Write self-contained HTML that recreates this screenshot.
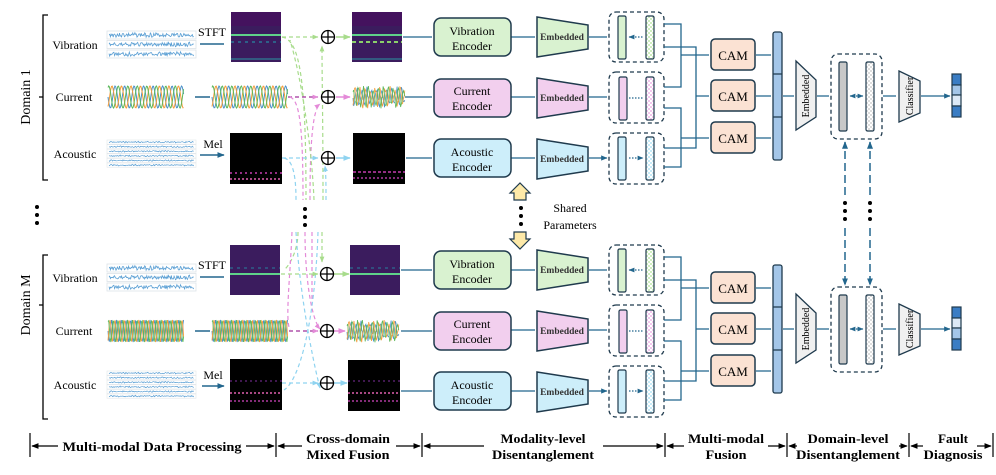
<!DOCTYPE html>
<html><head><meta charset="utf-8"><style>
html,body{margin:0;padding:0;background:#fff;}
svg{display:block;font-family:"Liberation Serif",serif;}
.lb{font-family:"Liberation Serif",serif;font-weight:bold;font-size:13px;}
</style></head><body>
<svg id="s" width="996" height="475" viewBox="0 0 996 475" xmlns="http://www.w3.org/2000/svg">
<defs>
<marker id="a" viewBox="0 0 10 10" refX="9" refY="5" markerWidth="5" markerHeight="5" orient="auto-start-reverse"><path d="M0 1L10 5L0 9z" fill="#22668d"/></marker>
<marker id="ag" viewBox="0 0 10 10" refX="9" refY="5" markerWidth="5" markerHeight="5" orient="auto"><path d="M0 1L10 5L0 9z" fill="#a8dc8c"/></marker>
<marker id="ap" viewBox="0 0 10 10" refX="9" refY="5" markerWidth="5" markerHeight="5" orient="auto"><path d="M0 1L10 5L0 9z" fill="#e48ad8"/></marker>
<marker id="ab" viewBox="0 0 10 10" refX="9" refY="5" markerWidth="5" markerHeight="5" orient="auto"><path d="M0 1L10 5L0 9z" fill="#8fd3f0"/></marker>
<marker id="ak" viewBox="0 0 10 10" refX="9" refY="5" markerWidth="6" markerHeight="6" orient="auto"><path d="M0 1L10 5L0 9z" fill="#000"/></marker>
<pattern id="chk" width="4" height="4" patternUnits="userSpaceOnUse"><rect width="4" height="4" fill="#fff"/><rect width="2" height="2" fill="#ddd"/><rect x="2" y="2" width="2" height="2" fill="#ddd"/></pattern>
<pattern id="chkg" width="4" height="4" patternUnits="userSpaceOnUse"><rect width="4" height="4" fill="#fff"/><rect width="2" height="2" fill="#cfeec0"/><rect x="2" y="2" width="2" height="2" fill="#cfeec0"/></pattern>
<pattern id="chkp" width="4" height="4" patternUnits="userSpaceOnUse"><rect width="4" height="4" fill="#fff"/><rect width="2" height="2" fill="#f3c8ee"/><rect x="2" y="2" width="2" height="2" fill="#f3c8ee"/></pattern>
<pattern id="chkb" width="4" height="4" patternUnits="userSpaceOnUse"><rect width="4" height="4" fill="#fff"/><rect width="2" height="2" fill="#c6ebf8"/><rect x="2" y="2" width="2" height="2" fill="#c6ebf8"/></pattern>
</defs>

<!-- ===== Domain 1 ===== -->
<g id="d1">
<path d="M48 15H43V180H48M43 97H39" fill="none" stroke="#000" stroke-width="1.3"/>
<text x="25" y="97" font-size="14" text-anchor="middle" transform="rotate(-90 25 97)" dy="5">Domain 1</text>
<text x="75" y="49" font-size="12" text-anchor="middle">Vibration</text>
<text x="74" y="101" font-size="12" text-anchor="middle">Current</text>
<text x="75" y="158" font-size="12" text-anchor="middle">Acoustic</text>
<text x="212" y="36" font-size="12" text-anchor="middle">STFT</text>
<text x="213" y="148" font-size="12" text-anchor="middle">Mel</text>
<path d="M200 44H224M195 97H210M200 155H224" stroke="#22668d" stroke-width="1.5" marker-end="url(#a)"/>
<g class="vib" transform="translate(107,31)"></g>
<g class="cur" transform="translate(108,97)"></g>
<g class="cur" transform="translate(212,97)"></g>
<g class="aco" transform="translate(107,140)"></g>
<rect x="231" y="12" width="50" height="50" fill="#3b1c5e"/><rect x="231" y="12" width="50" height="14" fill="#44125e"/><line x1="231" y1="35" x2="281" y2="35" stroke="#5fd38a" stroke-width="2"/><line x1="231" y1="42" x2="281" y2="42" stroke="#2e5f88" stroke-width="2" stroke-dasharray="3 4"/><line x1="231" y1="59" x2="281" y2="59" stroke="#2f6f8c" stroke-width="1.5"/>
<rect x="352" y="12" width="50" height="50" fill="#3b1c5e"/><rect x="352" y="12" width="50" height="14" fill="#44125e"/><line x1="352" y1="35" x2="402" y2="35" stroke="#5fd38a" stroke-width="2"/><line x1="352" y1="42" x2="402" y2="42" stroke="#8bd06a" stroke-width="2" stroke-dasharray="4 3"/><line x1="352" y1="59" x2="402" y2="59" stroke="#2f6f8c" stroke-width="1.5"/>
<rect x="230" y="133" width="52" height="51" fill="#000"/><line x1="230" y1="173" x2="282" y2="173" stroke="#c23cae" stroke-width="1.5" stroke-dasharray="2 3"/><line x1="230" y1="179" x2="282" y2="179" stroke="#e060b0" stroke-width="1.5" stroke-dasharray="2 2"/>
<rect x="353" y="133" width="52" height="51" fill="#000"/><line x1="353" y1="172" x2="405" y2="172" stroke="#c23cae" stroke-width="1.5" stroke-dasharray="3 2"/><line x1="353" y1="178" x2="405" y2="178" stroke="#b03aa0" stroke-width="1.5" stroke-dasharray="2 2"/>
<g class="mix" transform="translate(353,97)"></g>
<g fill="none" stroke-width="1.2" stroke-dasharray="4 3">
<path d="M282 37H318" stroke="#a8dc8c" marker-end="url(#ag)"/>
<path d="M282 37C300 40 306 80 306 200" stroke="#a8dc8c"/>
<path d="M323 200C323 120 322 80 322 46" stroke="#a8dc8c" marker-end="url(#ag)"/>
<path d="M288 97H318" stroke="#a0309a" marker-end="url(#ap)"/>
<path d="M290 97C300 100 303 130 303 200" stroke="#e48ad8"/>
<path d="M310 200C310 150 312 110 320 104" stroke="#e48ad8" marker-end="url(#ap)"/>
<path d="M282 158H318" stroke="#8fd3f0" marker-end="url(#ab)"/>
<path d="M284 158C294 160 296 180 296 200" stroke="#8fd3f0"/>
<path d="M326 200C326 185 326 175 325 166" stroke="#8fd3f0" marker-end="url(#ab)"/>
<path d="M314 200C312 150 302 80 290 40" stroke="#a8dc8c"/>
</g>
<g fill="none" stroke-width="1.5">
<path d="M336 37H350" stroke="#a8dc8c" marker-end="url(#ag)"/>
<path d="M336 97H350" stroke="#e48ad8" marker-end="url(#ap)"/>
<path d="M336 158H350" stroke="#8fd3f0" marker-end="url(#ab)"/>
</g>
<g fill="#fff" stroke="#000" stroke-width="1.3">
<circle cx="328" cy="37" r="6.5"/><path d="M321.5 37H334.5M328 30.5V43.5"/>
<circle cx="328" cy="97" r="6.5"/><path d="M321.5 97H334.5M328 90.5V103.5"/>
<circle cx="328" cy="158" r="6.5"/><path d="M321.5 158H334.5M328 151.5V164.5"/>
</g>
<path d="M403 37H432M405 97H432M406 158H432M511 37H535M511 97H535M511 158H535M589 37H607M589 97H607M589 158H607" stroke="#22668d" stroke-width="1.3" marker-end="url(#a)"/>
<g stroke="#1f3a4d" stroke-width="1.5">
<rect x="434" y="18" width="77" height="38" rx="7" fill="#d9f2d0"/>
<rect x="434" y="79" width="77" height="38" rx="7" fill="#f2cfee"/>
<rect x="434" y="139" width="77" height="38" rx="7" fill="#cdeefa"/>
<path d="M537 17L588 25V49L537 57z" fill="#d9f2d0"/>
<path d="M537 78L588 86V110L537 118z" fill="#f2cfee"/>
<path d="M537 139L588 147V171L537 179z" fill="#cdeefa"/>
</g>
<g font-size="12" text-anchor="middle">
<text x="472" y="35">Vibration</text><text x="472" y="50">Encoder</text>
<text x="472" y="95">Current</text><text x="472" y="110">Encoder</text>
<text x="472" y="156">Acoustic</text><text x="472" y="171">Encoder</text>
</g>
<g font-size="9.5" text-anchor="middle" font-weight="bold" fill="#333">
<text x="562" y="40">Embedded</text><text x="562" y="101">Embedded</text><text x="562" y="162">Embedded</text>
</g>
<g fill="none" stroke="#1f3a4d" stroke-width="1.3" stroke-dasharray="4 3">
<rect x="609" y="12" width="55" height="50" rx="7"/>
<rect x="609" y="72" width="55" height="51" rx="7"/>
<rect x="609" y="133" width="55" height="51" rx="7"/>
</g>
<g stroke="#1f3a4d" stroke-width="1.2">
<rect x="618" y="16" width="8" height="43" rx="1.5" fill="#d9f2d0"/><rect x="646" y="16" width="8" height="43" rx="1.5" fill="url(#chkg)"/>
<rect x="619" y="77" width="8" height="43" rx="1.5" fill="#f2cfee"/><rect x="646" y="77" width="8" height="43" rx="1.5" fill="url(#chkp)"/>
<rect x="618" y="137" width="8" height="43" rx="1.5" fill="#cdeefa"/><rect x="646" y="137" width="8" height="43" rx="1.5" fill="url(#chkb)"/>
</g>
<path d="M629 37H643M629 98H643M629 158H643" stroke="#22668d" stroke-width="1.2" stroke-dasharray="1.5 1.5" marker-start="url(#a)" marker-end="url(#a)"/>
<g fill="none" stroke="#22668d" stroke-width="1.3">
<path d="M664 24H681V87H664M664 47H696V148H664M664 108H681V167H664"/>
</g>
<path d="M681 55H709M696 96H709M681 138H709M756 55H771M756 96H771M756 138H771M783 96H794M817 96H829M883 96H896M921 96H950" stroke="#22668d" stroke-width="1.3" marker-end="url(#a)"/>
<g stroke="#1f3a4d" stroke-width="1.5" fill="#fbe2d3">
<rect x="711" y="39" width="44" height="31" rx="4"/><rect x="711" y="80" width="44" height="31" rx="4"/><rect x="711" y="122" width="44" height="31" rx="4"/>
</g>
<g font-size="13" text-anchor="middle"><text x="733" y="60">CAM</text><text x="733" y="101">CAM</text><text x="733" y="143">CAM</text></g>
<g stroke="#1f3a4d" stroke-width="1.3" fill="#a4c6e8">
<rect x="773" y="32" width="9" height="128" rx="2"/><path d="M773 74H782M773 117H782"/>
<path d="M796 61L816 80V117L796 130z" fill="#f0f0f0"/>
<path d="M899 71L920 81V113L899 122z" fill="#f0f0f0"/>
</g>
<text x="806" y="96" font-size="10" text-anchor="middle" transform="rotate(-90 806 96)" dy="3">Embedded</text>
<text x="910" y="96" font-size="10" text-anchor="middle" transform="rotate(-90 910 96)" dy="3">Classifier</text>
<rect x="831" y="54" width="51" height="85" rx="7" fill="none" stroke="#1f3a4d" stroke-width="1.3" stroke-dasharray="4 3"/>
<rect x="839" y="62" width="8" height="69" rx="1.5" fill="#c8c8c8" stroke="#1f3a4d" stroke-width="1.2"/>
<rect x="866" y="62" width="8" height="69" rx="1.5" fill="url(#chk)" stroke="#1f3a4d" stroke-width="1.2"/>
<path d="M850 96H863" stroke="#22668d" stroke-width="1.2" stroke-dasharray="1.5 1.5" marker-start="url(#a)" marker-end="url(#a)"/>
<g stroke="#1f3a4d" stroke-width="1.2"><rect x="952" y="74" width="9" height="11" fill="#3a7dc4"/><rect x="952" y="85" width="9" height="10" fill="#a4c6e8"/><rect x="952" y="95" width="9" height="11" fill="#dce9f6"/><rect x="952" y="106" width="9" height="11" fill="#3a7dc4"/></g>
</g>

<g fill="#000"><circle cx="37" cy="207" r="2"/><circle cx="37" cy="215" r="2"/><circle cx="37" cy="223" r="2"/>
<circle cx="305" cy="209" r="2"/><circle cx="305" cy="217" r="2"/><circle cx="305" cy="225" r="2"/>
<circle cx="521" cy="208" r="2"/><circle cx="521" cy="216" r="2"/><circle cx="521" cy="224" r="2"/>
<circle cx="845" cy="203" r="2"/><circle cx="845" cy="211" r="2"/><circle cx="845" cy="219" r="2"/>
<circle cx="870" cy="203" r="2"/><circle cx="870" cy="211" r="2"/><circle cx="870" cy="219" r="2"/></g>
<path d="M514 200V193H510L520 183L530 193H526V200zM514 232V239H510L520 249L530 239H526V232z" fill="#fde9a8" stroke="#1f3a4d" stroke-width="1.2"/>
<text x="570" y="212" font-size="12" text-anchor="middle">Shared</text>
<text x="570" y="229" font-size="12" text-anchor="middle">Parameters</text>
<g stroke="#22668d" stroke-width="1.5" stroke-dasharray="8 4" fill="none">
<path d="M845 195V142" marker-end="url(#a)"/><path d="M870 195V142" marker-end="url(#a)"/>
<path d="M845 228V285" marker-end="url(#a)"/><path d="M870 228V285" marker-end="url(#a)"/>
</g>
<g fill="none" stroke-width="1.2" stroke-dasharray="4 3">
<path d="M298 232C298 250 290 265 284 270" stroke="#a8dc8c"/>
<path d="M322 232V262" stroke="#a8dc8c" marker-end="url(#ag)"/>
<path d="M305 232C305 280 312 320 320 329" stroke="#e48ad8" marker-end="url(#ap)"/>
<path d="M312 232V300" stroke="#e48ad8"/>
<path d="M296 232C300 300 315 370 320 388" stroke="#8fd3f0" marker-end="url(#ab)"/>
<path d="M318 232C315 320 300 380 284 390" stroke="#8fd3f0"/>
<path d="M292 232C290 280 285 320 290 330" stroke="#e48ad8"/>
</g>

<!-- ===== Domain M ===== -->
<g transform="translate(0,233)">
<path d="M48 22H43V186H48M43 72H39" fill="none" stroke="#000" stroke-width="1.3"/>
<text x="25" y="72" font-size="14" text-anchor="middle" transform="rotate(-90 25 72)" dy="5">Domain M</text>
<text x="75" y="49" font-size="12" text-anchor="middle">Vibration</text>
<text x="74" y="102" font-size="12" text-anchor="middle">Current</text>
<text x="75" y="156" font-size="12" text-anchor="middle">Acoustic</text>
<text x="212" y="36" font-size="12" text-anchor="middle">STFT</text>
<text x="213" y="146" font-size="12" text-anchor="middle">Mel</text>
<path d="M200 44H224M195 98H210M202 153H224" stroke="#22668d" stroke-width="1.5" marker-end="url(#a)"/>
<g class="vib" transform="translate(107,31)"></g>
<g class="cur2" transform="translate(108,98)"></g>
<g class="cur2" transform="translate(212,98)"></g>
<g class="aco" transform="translate(107,138)"></g>
<rect x="230" y="12" width="50" height="50" fill="#3b1c5e"/><line x1="230" y1="41" x2="280" y2="41" stroke="#5fd38a" stroke-width="2"/><line x1="230" y1="35" x2="280" y2="35" stroke="#2e5f88" stroke-width="1.5" stroke-dasharray="3 4"/>
<rect x="350" y="12" width="50" height="50" fill="#3b1c5e"/><line x1="350" y1="41" x2="400" y2="41" stroke="#5fd38a" stroke-width="2"/><line x1="350" y1="35" x2="400" y2="35" stroke="#2e5f88" stroke-width="1.5" stroke-dasharray="3 4"/>
<rect x="230" y="126" width="52" height="51" fill="#000"/><line x1="230" y1="148" x2="282" y2="148" stroke="#8030a0" stroke-width="1" stroke-dasharray="2 3"/><line x1="230" y1="160" x2="282" y2="160" stroke="#e060b0" stroke-width="1.5" stroke-dasharray="2 2"/><line x1="230" y1="168" x2="282" y2="168" stroke="#b03aa0" stroke-width="1.5" stroke-dasharray="2 2"/>
<rect x="348" y="127" width="52" height="51" fill="#000"/><line x1="348" y1="148" x2="400" y2="148" stroke="#8030a0" stroke-width="1" stroke-dasharray="2 3"/><line x1="348" y1="160" x2="400" y2="160" stroke="#e060b0" stroke-width="1.5" stroke-dasharray="2 2"/><line x1="348" y1="168" x2="400" y2="168" stroke="#b03aa0" stroke-width="1.5" stroke-dasharray="2 2"/>
<g class="mix" transform="translate(347,98)"></g>
<g fill="none" stroke-width="1.2" stroke-dasharray="4 3">
<path d="M281 41H318" stroke="#a8dc8c" marker-end="url(#ag)"/>
<path d="M289 98H318" stroke="#a0309a" marker-end="url(#ap)"/>
<path d="M282 150H318" stroke="#8fd3f0" marker-end="url(#ab)"/>
</g>
<g fill="none" stroke-width="1.5">
<path d="M334 41H349" stroke="#a8dc8c" marker-end="url(#ag)"/>
<path d="M334 98H345" stroke="#e48ad8" marker-end="url(#ap)"/>
<path d="M334 150H347" stroke="#8fd3f0" marker-end="url(#ab)"/>
</g>
<g fill="#fff" stroke="#000" stroke-width="1.3">
<circle cx="327" cy="41" r="6.5"/><path d="M320.5 41H333.5M327 34.5V47.5"/>
<circle cx="327" cy="98" r="6.5"/><path d="M320.5 98H333.5M327 91.5V104.5"/>
<circle cx="327" cy="150" r="6.5"/><path d="M320.5 150H333.5M327 143.5V156.5"/>
</g>
<path d="M401 37H432M401 98H432M401 158H432M511 37H535M511 97H535M511 158H535M589 37H607M589 97H607M589 158H607" stroke="#22668d" stroke-width="1.3" marker-end="url(#a)"/>
<g stroke="#1f3a4d" stroke-width="1.5">
<rect x="434" y="18" width="77" height="38" rx="7" fill="#d9f2d0"/>
<rect x="434" y="79" width="77" height="38" rx="7" fill="#f2cfee"/>
<rect x="434" y="139" width="77" height="38" rx="7" fill="#cdeefa"/>
<path d="M537 17L588 25V49L537 57z" fill="#d9f2d0"/>
<path d="M537 78L588 86V110L537 118z" fill="#f2cfee"/>
<path d="M537 139L588 147V171L537 179z" fill="#cdeefa"/>
</g>
<g font-size="12" text-anchor="middle">
<text x="472" y="35">Vibration</text><text x="472" y="50">Encoder</text>
<text x="472" y="95">Current</text><text x="472" y="110">Encoder</text>
<text x="472" y="156">Acoustic</text><text x="472" y="171">Encoder</text>
</g>
<g font-size="9.5" text-anchor="middle" font-weight="bold" fill="#333">
<text x="562" y="40">Embedded</text><text x="562" y="101">Embedded</text><text x="562" y="162">Embedded</text>
</g>
<g fill="none" stroke="#1f3a4d" stroke-width="1.3" stroke-dasharray="4 3">
<rect x="609" y="12" width="55" height="50" rx="7"/>
<rect x="609" y="72" width="55" height="51" rx="7"/>
<rect x="609" y="133" width="55" height="51" rx="7"/>
</g>
<g stroke="#1f3a4d" stroke-width="1.2">
<rect x="618" y="16" width="8" height="43" rx="1.5" fill="#d9f2d0"/><rect x="646" y="16" width="8" height="43" rx="1.5" fill="url(#chkg)"/>
<rect x="619" y="77" width="8" height="43" rx="1.5" fill="#f2cfee"/><rect x="646" y="77" width="8" height="43" rx="1.5" fill="url(#chkp)"/>
<rect x="618" y="137" width="8" height="43" rx="1.5" fill="#cdeefa"/><rect x="646" y="137" width="8" height="43" rx="1.5" fill="url(#chkb)"/>
</g>
<path d="M629 37H643M629 98H643M629 158H643" stroke="#22668d" stroke-width="1.2" stroke-dasharray="1.5 1.5" marker-start="url(#a)" marker-end="url(#a)"/>
<g fill="none" stroke="#22668d" stroke-width="1.3">
<path d="M664 24H681V87H664M664 47H696V148H664M664 108H681V167H664"/>
</g>
<path d="M681 55H709M696 96H709M681 138H709M756 55H771M756 96H771M756 138H771M783 96H794M817 96H829M883 96H896M921 96H950" stroke="#22668d" stroke-width="1.3" marker-end="url(#a)"/>
<g stroke="#1f3a4d" stroke-width="1.5" fill="#fbe2d3">
<rect x="711" y="39" width="44" height="31" rx="4"/><rect x="711" y="80" width="44" height="31" rx="4"/><rect x="711" y="122" width="44" height="31" rx="4"/>
</g>
<g font-size="13" text-anchor="middle"><text x="733" y="60">CAM</text><text x="733" y="101">CAM</text><text x="733" y="143">CAM</text></g>
<g stroke="#1f3a4d" stroke-width="1.3" fill="#a4c6e8">
<rect x="773" y="32" width="9" height="128" rx="2"/><path d="M773 74H782M773 117H782"/>
<path d="M796 61L816 80V117L796 130z" fill="#f0f0f0"/>
<path d="M899 71L920 81V113L899 122z" fill="#f0f0f0"/>
</g>
<text x="806" y="96" font-size="10" text-anchor="middle" transform="rotate(-90 806 96)" dy="3">Embedded</text>
<text x="910" y="96" font-size="10" text-anchor="middle" transform="rotate(-90 910 96)" dy="3">Classifier</text>
<rect x="831" y="54" width="51" height="85" rx="7" fill="none" stroke="#1f3a4d" stroke-width="1.3" stroke-dasharray="4 3"/>
<rect x="839" y="62" width="8" height="69" rx="1.5" fill="#c8c8c8" stroke="#1f3a4d" stroke-width="1.2"/>
<rect x="866" y="62" width="8" height="69" rx="1.5" fill="url(#chk)" stroke="#1f3a4d" stroke-width="1.2"/>
<path d="M850 96H863" stroke="#22668d" stroke-width="1.2" stroke-dasharray="1.5 1.5" marker-start="url(#a)" marker-end="url(#a)"/>
<g stroke="#1f3a4d" stroke-width="1.2"><rect x="952" y="74" width="9" height="11" fill="#3a7dc4"/><rect x="952" y="85" width="9" height="10" fill="#dce9f6"/><rect x="952" y="95" width="9" height="11" fill="#a4c6e8"/><rect x="952" y="106" width="9" height="11" fill="#3a7dc4"/></g>
</g>

<!-- bottom stage labels -->
<g stroke="#000" stroke-width="1.2">
<path d="M30 433V457M276 433V457M422 433V457M665 433V457M787 433V457M909 433V457M993 433V457"/>
<path d="M58 446H32" marker-end="url(#ak)"/><path d="M246 446H274" marker-end="url(#ak)"/>
<path d="M302 446H278" marker-end="url(#ak)"/><path d="M396 446H420" marker-end="url(#ak)"/>
<path d="M484 446H424" marker-end="url(#ak)"/><path d="M603 446H663" marker-end="url(#ak)"/>
<path d="M684 446H667" marker-end="url(#ak)"/><path d="M768 446H785" marker-end="url(#ak)"/>
<path d="M797 446H789" marker-end="url(#ak)"/><path d="M899 446H907" marker-end="url(#ak)"/>
<path d="M923 446H911" marker-end="url(#ak)"/><path d="M977 446H991" marker-end="url(#ak)"/>
</g>
<g class="lb" text-anchor="middle" lengthAdjust="spacingAndGlyphs">
<text x="152" y="451" textLength="179" lengthAdjust="spacingAndGlyphs">Multi-modal Data Processing</text>
<text x="348" y="443" textLength="84" lengthAdjust="spacingAndGlyphs">Cross-domain</text><text x="348" y="459" textLength="83" lengthAdjust="spacingAndGlyphs">Mixed Fusion</text>
<text x="543" y="443" textLength="85" lengthAdjust="spacingAndGlyphs">Modality-level</text><text x="543" y="459" textLength="102" lengthAdjust="spacingAndGlyphs">Disentanglement</text>
<text x="726" y="443" textLength="76" lengthAdjust="spacingAndGlyphs">Multi-modal</text><text x="726" y="459" textLength="41" lengthAdjust="spacingAndGlyphs">Fusion</text>
<text x="848" y="443" textLength="81" lengthAdjust="spacingAndGlyphs">Domain-level</text><text x="848" y="459" textLength="104" lengthAdjust="spacingAndGlyphs">Disentanglement</text>
<text x="953" y="443" textLength="30" lengthAdjust="spacingAndGlyphs">Fault</text><text x="953" y="459" textLength="59" lengthAdjust="spacingAndGlyphs">Diagnosis</text>
</g>
</svg>
<script>
(function(){
var NS="http://www.w3.org/2000/svg";
function mk(g,tag,at){var e=document.createElementNS(NS,tag);for(var k in at)e.setAttribute(k,at[k]);g.appendChild(e);return e;}
function wave(x0,x1,yc,amp,per,ph,noise,seed){var d="",s=seed||1;for(var x=x0;x<=x1;x+=0.7){s=(s*9301+49297)%233280;var r=s/233280-0.5;var y=yc+amp*Math.sin((x-x0)/per*2*Math.PI+ph)+noise*r;d+=(x==x0?"M":"L")+x.toFixed(1)+" "+y.toFixed(1);}return d;}
document.querySelectorAll(".vib").forEach(function(g){for(var i=0;i<3;i++){mk(g,"rect",{x:0,y:i*9.5,width:89,height:8,fill:"#fff",stroke:"#dde3e8","stroke-width":0.8});mk(g,"path",{d:wave(2,87,i*9.5+4,0.5,3,0,4,i+3),fill:"none",stroke:"#5a9fd4","stroke-width":0.8});}});
document.querySelectorAll(".aco").forEach(function(g){for(var i=0;i<6;i++){mk(g,"rect",{x:0,y:i*4.6,width:89,height:4.2,fill:"#fff",stroke:"#e2e6ea","stroke-width":0.6});mk(g,"path",{d:wave(2,87,i*4.6+2.1,0.3,3,0,1.2,i+7),fill:"none",stroke:"#5a9fd4","stroke-width":0.7});}});
var cols=["#4a90c8","#f39c3a","#5cb85c"];
document.querySelectorAll(".cur").forEach(function(g){for(var i=0;i<3;i++)mk(g,"path",{d:wave(0,76,0,11,9.5,i*2.094,0,1),fill:"none",stroke:cols[i],"stroke-width":1});});
document.querySelectorAll(".cur2").forEach(function(g){for(var i=0;i<3;i++)mk(g,"path",{d:wave(0,76,0,11,4.8,i*2.094,0,1),fill:"none",stroke:cols[i],"stroke-width":0.9});});
document.querySelectorAll(".mix").forEach(function(g){for(var i=0;i<3;i++)mk(g,"path",{d:wave(0,52,0,8,5,i*2.094,7,i+11),fill:"none",stroke:cols[i],"stroke-width":0.8});});
})();
</script>
</body></html>
